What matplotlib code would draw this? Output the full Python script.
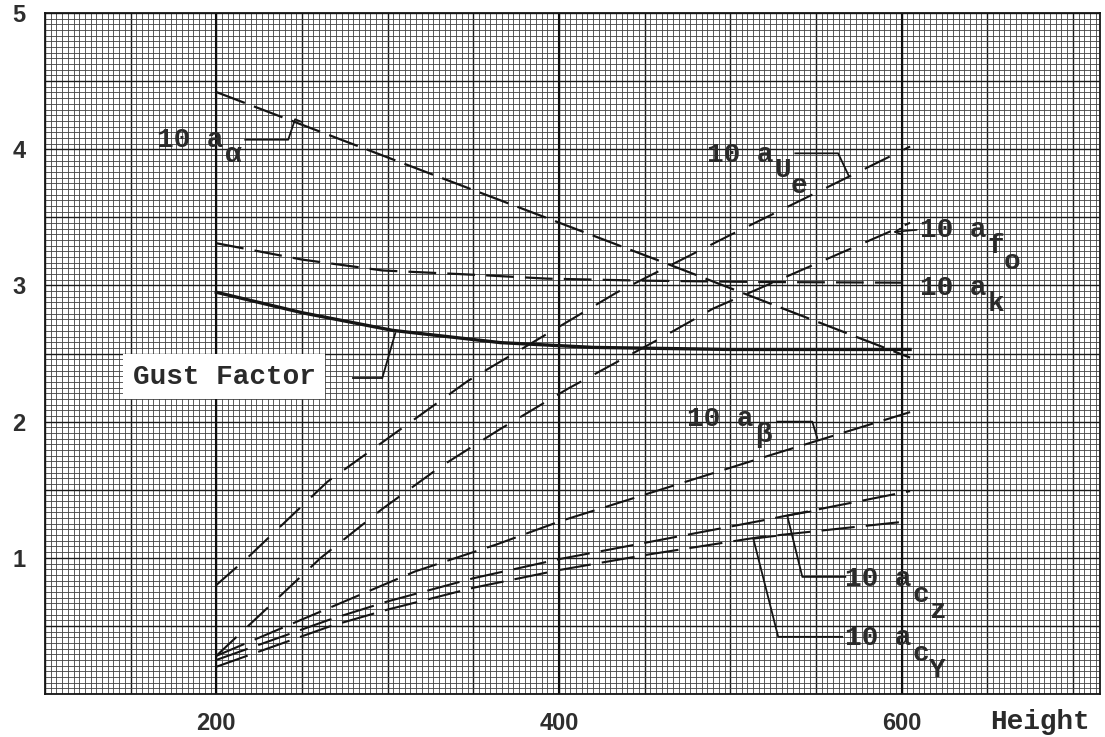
import matplotlib
matplotlib.use("Agg")
import matplotlib.pyplot as plt
from matplotlib.ticker import MultipleLocator, FuncFormatter

plt.rcParams['lines.scale_dashes'] = False

# values (height vs. 10x sensitivity)
ad_x = [200, 300, 463, 605]
ad_y = [4.42, 3.94, 3.16, 2.47]

ak_x = [200, 250, 297, 356, 393, 450, 520, 605]
ak_y = [3.31, 3.19, 3.11, 3.075, 3.05, 3.035, 3.025, 3.02]

gust_x = [200, 250, 303, 366, 420, 500, 605]
gust_y = [2.95, 2.80, 2.67, 2.58, 2.545, 2.53, 2.53]

aue_x = [200, 219, 265, 347, 434, 500, 605]
aue_y = [0.80, 1.01, 1.56, 2.30, 2.95, 3.37, 4.02]

afo_x = [200, 261, 297, 331, 365, 405, 459, 490, 605]
afo_y = [0.28, 1.00, 1.36, 1.67, 1.94, 2.24, 2.61, 2.83, 3.46]

abeta_x = [200, 316, 364, 401, 525, 605]
abeta_y = [0.28, 0.90, 1.10, 1.27, 1.76, 2.07]

acz_x = [200, 267, 300, 350, 400, 471, 517, 605]
acz_y = [0.25, 0.55, 0.68, 0.85, 0.99, 1.16, 1.27, 1.49]

acy_x = [200, 267, 300, 350, 400, 450, 516, 605]
acy_y = [0.20, 0.50, 0.62, 0.78, 0.91, 1.02, 1.15, 1.27]

x_labels = [200, 400, 600]
y_labels = [1, 2, 3, 4, 5]

ink = '#151515'
mono = dict(family='Liberation Mono', weight='bold', size=20, color='#2a2a2a')

fig = plt.figure(figsize=(11.05, 7.37), dpi=100)
ax = fig.add_axes([0.0407, 0.0583, 0.955, 0.924])
ax.set_xlim(100, 716)
ax.set_ylim(0, 5.0)

# graph paper: fine cells, medium lines every 50 / 0.5, heavy at labelled heights
ax.xaxis.set_major_locator(MultipleLocator(50))
ax.yaxis.set_major_locator(MultipleLocator(0.5))
ax.xaxis.set_minor_locator(MultipleLocator(10 / 3))
ax.yaxis.set_minor_locator(MultipleLocator(1 / 24))
ax.xaxis.set_major_formatter(FuncFormatter(lambda v, p: f"{v:.0f}" if round(v) in x_labels else ""))
ax.yaxis.set_major_formatter(FuncFormatter(lambda v, p: f"{v:.0f}" if abs(v - round(v)) < 1e-6 and round(v) in y_labels else ""))
ax.grid(which='minor', color='#404040', lw=0.6)
ax.grid(which='major', color='#1a1a1a', lw=1.0)
for xv in x_labels:
    ax.axvline(xv, color='#0d0d0d', lw=1.5, zorder=0.6)
ax.set_axisbelow(True)
ax.tick_params(which='both', length=0)
ax.tick_params(axis='x', pad=13)
ax.tick_params(axis='y', pad=14)
for lab in ax.get_xticklabels() + ax.get_yticklabels():
    lab.set_fontfamily('Liberation Sans')
    lab.set_fontweight('bold')
    lab.set_fontsize(17)
    lab.set_color('#2e2e2e')
for s in ax.spines.values():
    s.set_color(ink)
    s.set_linewidth(1.3)

# curves
ax.plot(ad_x, ad_y, color=ink, lw=1.6, dashes=(22, 7))
ax.plot(ak_x, ak_y, color=ink, lw=1.6, dashes=(20, 8))
ax.plot(gust_x, gust_y, color=ink, lw=2.4)
ax.plot(aue_x, aue_y, color=ink, lw=1.5, dashes=(20, 11))
ax.plot(afo_x, afo_y, color=ink, lw=1.5, dashes=(20, 11))
ax.plot(abeta_x, abeta_y, color=ink, lw=1.5, dashes=(22, 8))
ax.plot(acz_x, acz_y, color=ink, lw=1.5, dashes=(24, 8))
ax.plot(acy_x, acy_y, color=ink, lw=1.5, dashes=(24, 8))


def label(x, y, subs):
    ax.text(x, y, "10 a", va='baseline', ha='left', **mono)
    for i, ch in enumerate(subs):
        ax.annotate(ch, xy=(x, y), xytext=(48.5 + 11.8 * i, -11.5 * (i + 1)),
                    textcoords='offset points', va='baseline', ha='left', **mono)


label(165.6, 4.02, "α")
label(486.6, 3.91, "Ue")
label(611.0, 3.355, "fo")
label(611.0, 2.93, "k")
label(475.0, 1.97, "β")
label(567.2, 0.79, "cz")
label(567.2, 0.36, "cY")

# leader lines
lead = dict(color=ink, lw=1.3)
ax.plot([216.9, 242, 246, 250], [4.07, 4.07, 4.22, 4.20], **lead)
ax.plot([538, 563, 569], [3.97, 3.97, 3.81], **lead)
ax.plot([527.5, 547.9, 550.8], [2.0, 2.0, 1.88], **lead)
ax.plot([567.2, 542.1, 533.3, 546.8], [0.86, 0.86, 1.31, 1.34], **lead)
ax.plot([565.4, 528, 513.5, 526.3], [0.42, 0.42, 1.14, 1.16], **lead)
ax.plot([296.9, 304.5], [2.32, 2.65], **lead)
ax.plot([280, 296.9], [2.32, 2.32], **lead)
ax.annotate('', xy=(593.5, 3.39), xytext=(610.5, 3.41),
            arrowprops=dict(arrowstyle='->', color=ink, lw=1.2))

ax.text(204.7, 2.33, "Gust Factor", ha='center', va='center',
        bbox=dict(boxstyle='square,pad=0.35', fc='white', ec='none'), **mono)

fig.text(1040 / 1105, 1 - 722 / 737, "Height", ha='center', va='center',
         family='Liberation Mono', weight='bold', size=20, color='#2a2a2a')

fig.savefig("out.png", dpi=100)
